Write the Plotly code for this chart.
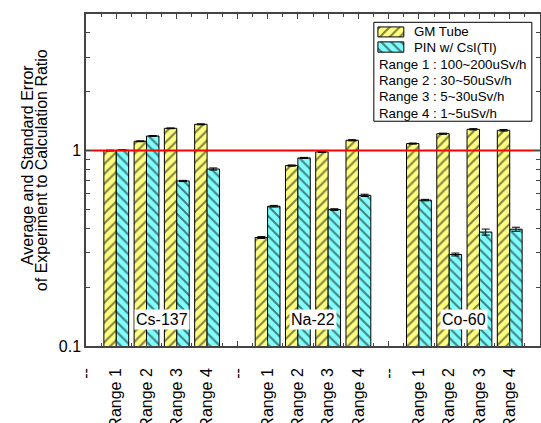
import numpy as np
import plotly.graph_objects as go

# ---------------- data ----------------
tick_labels = ["--", "Range 1", "Range 2", "Range 3", "Range 4",
               "--", "Range 1", "Range 2", "Range 3", "Range 4",
               "--", "Range 1", "Range 2", "Range 3", "Range 4", "--"]
bar_positions = [1, 2, 3, 4, 6, 7, 8, 9, 11, 12, 13, 14]
sources = ["Cs-137", "Na-22", "Co-60"]
source_label_pos = [2.5, 7.5, 12.5]
source_label_value = 0.137

gm_values = [1.00, 1.116, 1.30, 1.363,
             0.359, 0.838, 0.984, 1.129,
             1.086, 1.22, 1.285, 1.27]
gm_errors = [0.005, 0.006, 0.006, 0.008,
             0.004, 0.006, 0.006, 0.008,
             0.007, 0.008, 0.010, 0.012]
pin_values = [1.005, 1.188, 0.699, 0.805,
              0.519, 0.917, 0.499, 0.590,
              0.558, 0.294, 0.383, 0.396]
pin_errors = [0.005, 0.006, 0.005, 0.010,
              0.005, 0.006, 0.005, 0.008,
              0.005, 0.005, 0.0135, 0.0093]
legend_lines = ["Range 1 : 100~200uSv/h", "Range 2 : 30~50uSv/h",
                "Range 3 : 5~30uSv/h", "Range 4 : 1~5uSv/h"]
reference_ratio = 1.0

YELLOW = "#FFFF80"
CYAN = "#80FFFF"
FONT = "Liberation Sans, Arial, sans-serif"
AXC = "#444444"

fig = go.Figure()

fig.add_trace(go.Bar(
    x=bar_positions, y=gm_values, name="GM Tube",
    error_y=dict(type="data", array=gm_errors, color="black", thickness=1, width=4),
    marker=dict(color=YELLOW, line=dict(color="black", width=1),
                pattern=dict(shape="/", fgcolor="black", size=7, solidity=0.28)),
    showlegend=False))
fig.add_trace(go.Bar(
    x=bar_positions, y=pin_values, name="PIN w/ CsI(Tl)",
    error_y=dict(type="data", array=pin_errors, color="black", thickness=1, width=4),
    marker=dict(color=CYAN, line=dict(color="black", width=1),
                pattern=dict(shape="\\", fgcolor="black", size=7, solidity=0.28)),
    showlegend=False))

# reference line at ratio 1
fig.add_trace(go.Scatter(x=[0, len(tick_labels) - 1], y=[reference_ratio, reference_ratio],
                         mode="lines", line=dict(color="red", width=2),
                         showlegend=False, hoverinfo="skip"))

# legend swatches on an overlay axis (fractions of the plot area)
def swatch(x0, x1, y0, y1, color, shape):
    fig.add_trace(go.Scatter(
        x=[x0, x1, x1, x0, x0], y=[y0, y0, y1, y1, y0],
        xaxis="x2", yaxis="y2", mode="lines", fill="toself",
        fillcolor=color, line=dict(color="black", width=1),
        fillpattern=dict(shape=shape, fgcolor="black", bgcolor=color,
                         size=7, solidity=0.28),
        showlegend=False, hoverinfo="skip"))

swatch(0.643, 0.700, 0.931, 0.961, YELLOW, "/")
swatch(0.643, 0.700, 0.885, 0.916, CYAN, "\\")

fig.update_layout(
    width=541, height=423,
    margin=dict(l=86, r=1, t=14, b=77),
    paper_bgcolor="white", plot_bgcolor="white",
    barmode="group", bargap=0.18, bargroupgap=0,
    font=dict(family=FONT, size=16, color="black"),
    showlegend=False,
    xaxis=dict(
        range=[0, len(tick_labels) - 1],
        tickmode="array", tickvals=list(range(len(tick_labels))), ticktext=tick_labels,
        tickangle=-90, ticks="inside", ticklen=5, tickcolor=AXC, tickwidth=1,
        ticklabelstandoff=14,
        minor=dict(dtick=0.5, tick0=0, ticks="inside", ticklen=3, tickcolor=AXC),
        showline=True, linecolor=AXC, linewidth=1.5, mirror="allticks",
        showgrid=False, zeroline=False, tickfont=dict(size=16), automargin=False),
    yaxis=dict(
        type="log", range=[-1, np.log10(5)],
        tickmode="array", tickvals=[0.1, 1], ticktext=["0.1", "1"],
        ticks="inside", ticklen=6, tickcolor=AXC, tickwidth=1,
        minor=dict(tickmode="array",
                   tickvals=[0.2, 0.3, 0.4, 0.5, 0.6, 0.7, 0.8, 0.9, 2, 3, 4, 5],
                   ticks="inside", ticklen=4, tickcolor=AXC),
        showline=True, linecolor=AXC, linewidth=1.5, mirror="allticks",
        showgrid=False, zeroline=False, tickfont=dict(size=16), automargin=False),
    xaxis2=dict(overlaying="x", range=[0, 1], visible=False),
    yaxis2=dict(overlaying="y", range=[0, 1], visible=False),
)

annotations = []
# y axis title as two rotated lines
annotations.append(dict(xref="paper", yref="paper", x=(27 - 86) / 454, y=(345.7 - 165) / 331.7,
                        text="Average and Standard Error", textangle=-90, showarrow=False,
                        font=dict(size=16), xanchor="center", yanchor="middle"))
annotations.append(dict(xref="paper", yref="paper", x=(41 - 86) / 454, y=(345.7 - 170) / 331.7,
                        text="of Experiment to Calculation Ratio", textangle=-90, showarrow=False,
                        font=dict(size=16), xanchor="center", yanchor="middle"))
# source labels
for name, pos in zip(sources, source_label_pos):
    annotations.append(dict(x=pos, y=np.log10(source_label_value), xref="x", yref="y",
                            text=name, showarrow=False, bgcolor="white",
                            font=dict(size=16), borderpad=1))
# legend texts
annotations.append(dict(xref="x domain", yref="y domain", x=0.717, y=0.946, text="GM Tube",
                        showarrow=False, xanchor="left", yanchor="middle", font=dict(size=13.3)))
annotations.append(dict(xref="x domain", yref="y domain", x=0.717, y=0.900, text="PIN w/ CsI(Tl)",
                        showarrow=False, xanchor="left", yanchor="middle", font=dict(size=13.3)))
for i, line in enumerate(legend_lines):
    annotations.append(dict(xref="x domain", yref="y domain", x=0.6405,
                            y=(345.7 - (64.3 + 16.3 * i)) / 331.7, text=line,
                            showarrow=False, xanchor="left", yanchor="middle",
                            font=dict(size=13.3)))
fig.update_layout(annotations=annotations)

fig.add_shape(type="rect", xref="x domain", yref="y domain",
              x0=0.634, x1=0.982, y0=0.677, y1=0.975,
              line=dict(color="black", width=1), fillcolor="rgba(0,0,0,0)")

fig.write_html("out.html",
               config={"displayModeBar": False},
               post_script="document.body.style.margin='0';document.body.style.overflow='hidden';")
